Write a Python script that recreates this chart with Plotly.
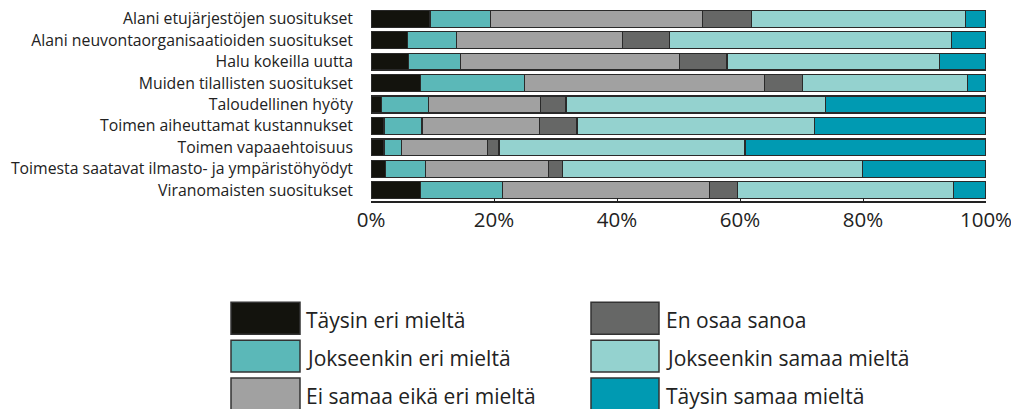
import plotly.graph_objects as go

categories = [
    "Alani etujärjestöjen suositukset",
    "Alani neuvontaorganisaatioiden suositukset",
    "Halu kokeilla uutta",
    "Muiden tilallisten suositukset",
    "Taloudellinen hyöty",
    "Toimen aiheuttamat kustannukset",
    "Toimen vapaaehtoisuus",
    "Toimesta saatavat ilmasto- ja ympäristöhyödyt",
    "Viranomaisten suositukset",
]

series_names = [
    "Täysin eri mieltä",
    "Jokseenkin eri mieltä",
    "Ei samaa eikä eri mieltä",
    "En osaa sanoa",
    "Jokseenkin samaa mieltä",
    "Täysin samaa mieltä",
]

tays_eri = [9.6, 5.9, 6.1, 8.0, 1.7, 2.1, 2.1, 2.4, 8.0]
jok_eri = [9.8, 8.0, 8.4, 16.9, 7.6, 6.2, 2.9, 6.4, 13.4]
ei_samaa = [34.5, 27.0, 35.7, 39.1, 18.2, 19.1, 13.9, 20.1, 33.7]
en_osaa = [8.0, 7.7, 7.7, 6.1, 4.2, 6.1, 1.9, 2.3, 4.5]
jok_samaa = [34.8, 45.8, 34.5, 26.9, 42.2, 38.6, 40.0, 48.7, 35.1]
tays_samaa = [3.3, 5.6, 7.6, 3.0, 26.1, 27.9, 39.2, 20.1, 5.3]

values = [tays_eri, jok_eri, ei_samaa, en_osaa, jok_samaa, tays_samaa]
colors = ["#13130d", "#5bb8b8", "#a1a1a1", "#666766", "#94d2cf", "#009ab2"]

tick_vals = [0, 20, 40, 60, 80, 100]
tick_text = ["0%", "20%", "40%", "60%", "80%", "100%"]

fig = go.Figure()
for name, vals, col in zip(series_names, values, colors):
    fig.add_trace(go.Bar(
        y=categories, x=vals, name=name, orientation="h",
        marker=dict(color=col, line=dict(color="#2a2a2a", width=1.2)),
        showlegend=False,
    ))

# page body has an 8px margin; work in figure coordinates = page - 8
OFF = 8
W, H = 1019 - OFF, 409 - OFF
L = 371 - OFF
R = W - (986 - OFF)
T = 0
plot_bottom = 201.5 - OFF
B = H - plot_bottom
pw = W - L - R
ph = plot_bottom - T

def px(x):
    return (x - OFF - L) / pw

def py(y):
    return (plot_bottom - (y - OFF)) / ph

# custom legend (large swatches), positions in page pixels
shapes = []
annotations = []
cols_x = [(231, 300, 304), (591, 659, 664)]
rows_y = [303, 341, 379]
for i, (name, col) in enumerate(zip(series_names, colors)):
    cx = cols_x[i // 3]
    ry = rows_y[i % 3]
    shapes.append(dict(
        type="rect", xref="paper", yref="paper",
        x0=px(cx[0]), x1=px(cx[1]), y0=py(ry), y1=py(ry + 32),
        fillcolor=col, line=dict(color="#333333", width=1.5), layer="above",
    ))
    annotations.append(dict(
        xref="paper", yref="paper", x=px(cx[2]), y=py(ry + 18),
        text=name, showarrow=False, xanchor="left", yanchor="middle",
        font=dict(size=21, color="#222222"),
    ))

fig.update_layout(
    barmode="stack",
    bargap=0.21,
    width=W, height=H,
    margin=dict(l=L, r=R, t=T, b=B, autoexpand=False),
    plot_bgcolor="white", paper_bgcolor="white",
    font=dict(family="Open Sans", color="#222222"),
    shapes=shapes,
    annotations=annotations,
    xaxis=dict(
        range=[0, 100], tickvals=tick_vals, ticktext=tick_text,
        showgrid=False, zeroline=False,
        showline=True, linecolor="#222222", linewidth=1.5,
        ticks="inside", ticklen=3, tickcolor="#222222",
        tickfont=dict(size=20.5, color="#222222"),
    ),
    yaxis=dict(
        autorange="reversed", showgrid=False, zeroline=False,
        ticks="", ticklabelstandoff=17,
        tickfont=dict(size=15.8, color="#222222"),
    ),
)

fig.write_html("out.html")
